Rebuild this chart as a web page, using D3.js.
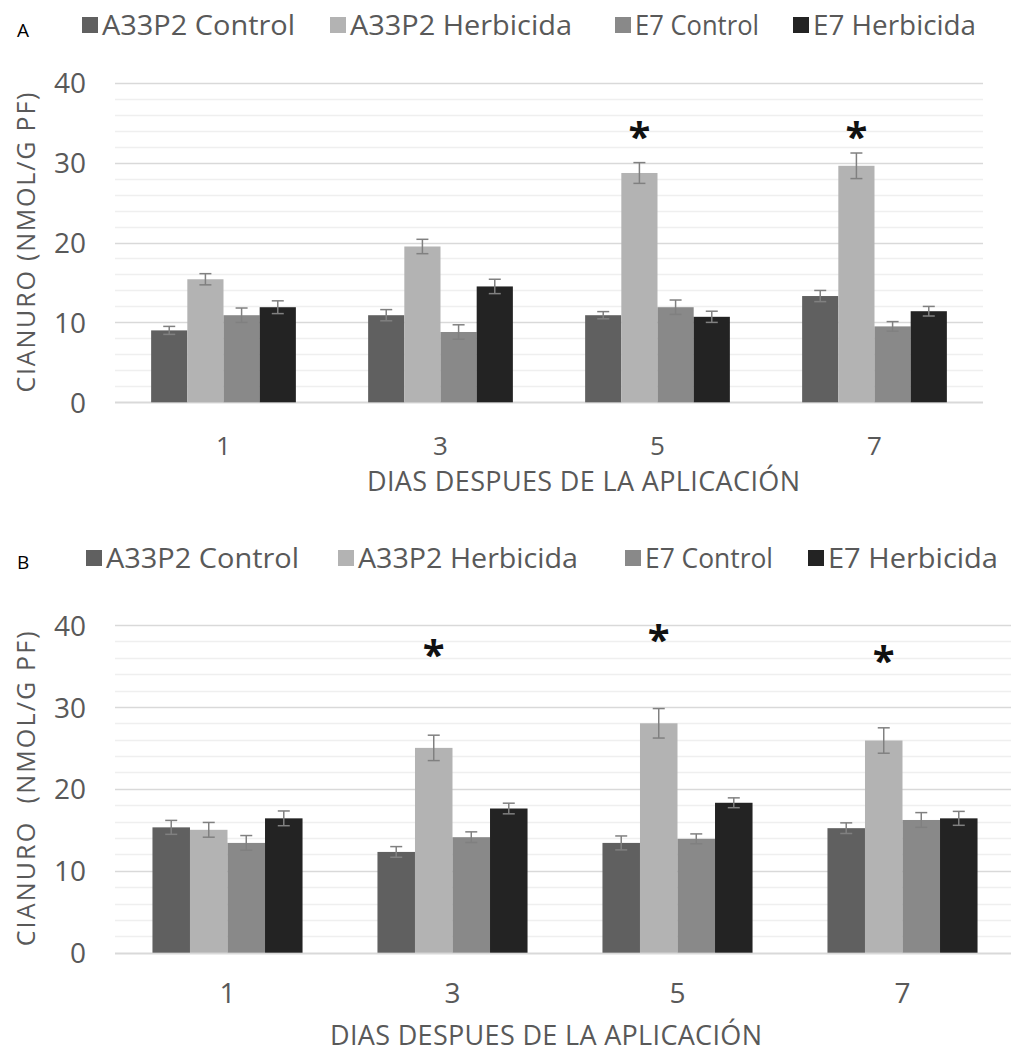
<!DOCTYPE html>
<html><head><meta charset="utf-8">
<script src="https://cdn.jsdelivr.net/npm/d3@7/dist/d3.min.js"></script>
<style>body{margin:0;background:#fff}svg text{font-family:"Open Sans",sans-serif}</style>
</head><body>
<svg id="c" width="1011" height="1053"></svg>
<script>
const days = ["1","3","5","7"];
const seriesNames = ["A33P2 Control","A33P2 Herbicida","E7 Control","E7 Herbicida"];
const colors = ["#606060","#b3b3b3","#898989","#232323"];
const yTicks = [0,10,20,30,40];
const xTitle = "DIAS DESPUES DE LA APLICACIÓN";

// Panel A values
const A_a33Control   = [9.0, 10.9, 10.9, 13.3];
const A_a33Herb      = [15.4, 19.5, 28.7, 29.6];
const A_e7Control    = [10.9, 8.8, 11.9, 9.5];
const A_e7Herb       = [11.9, 14.5, 10.7, 11.4];
const A_a33ControlErr= [0.5, 0.7, 0.45, 0.7];
const A_a33HerbErr   = [0.7, 0.9, 1.3, 1.6];
const A_e7ControlErr = [0.9, 0.9, 0.9, 0.6];
const A_e7HerbErr    = [0.8, 0.9, 0.7, 0.6];
const A_stars        = [null, null, 34.5, 34.5];

// Panel B values
const B_a33Control   = [15.3, 12.3, 13.4, 15.2];
const B_a33Herb      = [15.0, 25.0, 28.0, 25.9];
const B_e7Control    = [13.4, 14.1, 13.9, 16.2];
const B_e7Herb       = [16.4, 17.6, 18.3, 16.4];
const B_a33ControlErr= [0.85, 0.65, 0.85, 0.65];
const B_a33HerbErr   = [0.9, 1.55, 1.8, 1.55];
const B_e7ControlErr = [0.9, 0.65, 0.6, 0.9];
const B_e7HerbErr    = [0.9, 0.65, 0.6, 0.85];
const B_stars        = [null, 37.6, 39.5, 36.9];

const svg = d3.select("#c");
const textCol = "#595959";

function panel(cfg){
  const g = svg.append("g");
  const vals = cfg.vals, errs = cfg.errs;
  const x = d3.scaleBand().domain(days).range([cfg.left, cfg.right]).paddingInner(0.333).paddingOuter(0.1665);
  const xs = d3.scaleBand().domain(d3.range(4)).range([0, x.bandwidth()]);
  const y = d3.scaleLinear().domain([0,40]).range([cfg.bottom, cfg.top]);

  const minor = d3.range(0, 41, 2);
  g.selectAll("line.grid").data(minor).join("line")
    .attr("x1", cfg.left).attr("x2", cfg.right)
    .attr("y1", d => Math.round(y(d))+0.5).attr("y2", d => Math.round(y(d))+0.5)
    .attr("stroke", d => d%10===0 ? "#d9d9d9" : "#efefef")
    .attr("stroke-width", d => d===0 ? 2 : 1.5);

  g.append("g").attr("transform", `translate(${cfg.left-29},0)`)
    .call(d3.axisLeft(y).tickValues(yTicks).tickSize(0).tickPadding(0))
    .call(a => a.select(".domain").remove())
    .selectAll("text").attr("font-size", 28).attr("fill", textCol).attr("font-family", "Open Sans").attr("dy","0.36em");

  g.append("g").attr("transform", `translate(0,${cfg.xTickY})`)
    .call(d3.axisBottom(x).tickSize(0).tickPadding(0))
    .call(a => a.select(".domain").remove())
    .selectAll("text").attr("font-size", cfg.xTickFont).attr("fill", textCol).attr("font-family", "Open Sans").attr("dy","0.36em");

  const groups = g.selectAll("g.grp").data(days).join("g")
    .attr("transform", d => `translate(${x(d)},0)`);
  groups.each(function(day, i){
    const gg = d3.select(this);
    for(let s=0;s<4;s++){
      const v = vals[s][i], e = errs[s][i];
      gg.append("rect").attr("x", xs(s)).attr("width", xs.bandwidth())
        .attr("y", y(v)).attr("height", y(0)-y(v)).attr("fill", colors[s]);
      const cx = xs(s) + xs.bandwidth()/2;
      gg.append("line").attr("x1",cx).attr("x2",cx).attr("y1",y(v+e)).attr("y2",y(v-e)).attr("stroke","#808080").attr("stroke-width",1.5);
      [v+e, v-e].forEach(t => gg.append("line").attr("x1",cx-6).attr("x2",cx+6).attr("y1",y(t)).attr("y2",y(t)).attr("stroke","#808080").attr("stroke-width",1.5));
    }
    if(cfg.stars[i] != null){
      const cx = xs(1) + xs.bandwidth()/2;
      gg.append("text").attr("x", cx).attr("y", y(cfg.stars[i])).attr("text-anchor","middle")
        .attr("dy","0.62em").attr("font-size", 40).attr("font-weight","bold").attr("fill","#111")
        .attr("font-family","DejaVu Sans").text("*");
    }
  });

  g.append("text").attr("transform", `translate(${cfg.yTitleX},${(cfg.top+cfg.bottom)/2}) rotate(-90)`)
    .attr("text-anchor","middle").attr("font-size", 25).attr("fill", textCol)
    .attr("textLength", cfg.yTitleLen).attr("lengthAdjust","spacing")
    .style("white-space","pre").text(cfg.yTitle);

  g.append("text").attr("x", cfg.xTitleX).attr("y", cfg.xTitleY)
    .attr("font-size", 27).attr("fill", textCol)
    .attr("textLength", cfg.xTitleLen).attr("lengthAdjust","spacing").text(xTitle);

  g.append("text").attr("x", cfg.letterX).attr("y", cfg.letterY).attr("dy","0.35em").attr("font-size", 19).attr("fill","#000").text(cfg.letter);

  seriesNames.forEach((n, s) => {
    const lx = cfg.legendX[s];
    g.append("rect").attr("x", lx).attr("y", cfg.legendY-8).attr("width", 16).attr("height", 16).attr("fill", colors[s]);
    g.append("text").attr("x", lx+20).attr("y", cfg.legendY).attr("dy","0.36em").attr("font-size", cfg.legendFont)
      .attr("textLength", cfg.legendLen[s]).attr("lengthAdjust","spacingAndGlyphs")
      .attr("fill", textCol).text(n);
  });
}

panel({
  letter:"A", letterX:17, letterY:30,
  left:115, right:983, top:82.7, bottom:402.3, xTickY:446, xTickFont:26,
  vals:[A_a33Control, A_a33Herb, A_e7Control, A_e7Herb],
  errs:[A_a33ControlErr, A_a33HerbErr, A_e7ControlErr, A_e7HerbErr],
  stars:A_stars, yTitle:"CIANURO (NMOL/G PF)", yTitleX:35, yTitleLen:300,
  xTitleX:367, xTitleY:491, xTitleLen:433,
  legendY:25, legendX:[82,330,615,793], legendLen:[193,222,124,163], legendFont:27
});
panel({
  letter:"B", letterX:17, letterY:562,
  left:115, right:1015, top:625, bottom:952.7, xTickY:993, xTickFont:28,
  vals:[B_a33Control, B_a33Herb, B_e7Control, B_e7Herb],
  errs:[B_a33ControlErr, B_a33HerbErr, B_e7ControlErr, B_e7HerbErr],
  stars:B_stars, yTitle:"CIANURO  (NMOL/G PF)", yTitleX:35, yTitleLen:315,
  xTitleX:330, xTitleY:1045, xTitleLen:432,
  legendY:558, legendX:[86,338,625,808], legendLen:[193,220,128,170], legendFont:27
});
</script>
</body></html>
